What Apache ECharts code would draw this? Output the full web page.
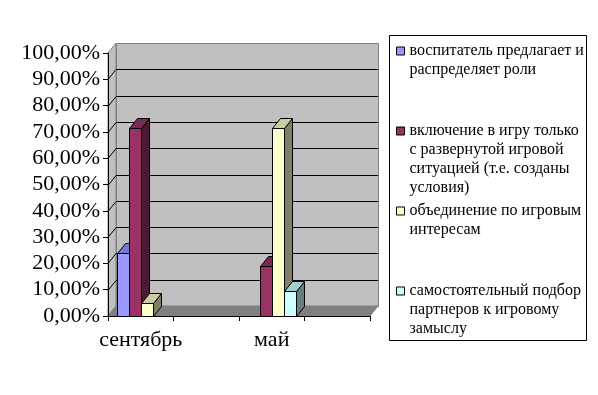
<!DOCTYPE html>
<html>
<head>
<meta charset="utf-8">
<script src="https://cdn.jsdelivr.net/npm/echarts@6/dist/echarts.min.js"></script>
<style>
html,body{margin:0;padding:0;background:#fff;}
#c{width:598px;height:395px;}
</style>
</head>
<body>
<div id="c"></div>
<script>
// ---- data ----
const categories = ['сентябрь', '', 'май', ''];
const yTicks = [0, 10, 20, 30, 40, 50, 60, 70, 80, 90, 100];
const seriesNames = [
  'воспитатель предлагает и распределяет роли',
  'включение в игру только с развернутой игровой ситуацией (т.е. созданы условия)',
  'объединение по игровым интересам',
  'самостоятельный подбор партнеров к игровому замыслу'
];
const legendLines = [
  ['воспитатель предлагает и', 'распределяет роли'],
  ['включение в игру только', 'с развернутой игровой', 'ситуацией (т.е. созданы', 'условия)'],
  ['объединение по игровым', 'интересам'],
  ['самостоятельный подбор', 'партнеров к игровому', 'замыслу']
];
const valVospitatel = [23.8, null, 0, null];
const valVklyuchenie = [71.4, null, 19.0, null];
const valObedinenie = [4.8, null, 71.4, null];
const valSamostoyat = [0, null, 9.5, null];
const seriesValues = [valVospitatel, valVklyuchenie, valObedinenie, valSamostoyat];

// ---- styles ----
const FONT = 'Liberation Serif';
const DX = 8, DY = -10, BAR_W = 12;
const palette = [
  { front: '#9999FF', top: '#7A7ACC', side: '#4D4D80' },
  { front: '#993366', top: '#7A2952', side: '#4D1A33' },
  { front: '#FFFFCC', top: '#CCCCA3', side: '#808066' },
  { front: '#CCFFFF', top: '#A3CCCC', side: '#668080' }
];
const legendCenters = [51, 131, 211, 291];
const LINE_H = 19;

const chart = echarts.init(document.getElementById('c'), null, { renderer: 'canvas' });

function wallRender(params, api) {
  const cs = params.coordSys;
  const L = cs.x, T = cs.y, W = cs.width, H = cs.height, B = T + H;
  const ch = [];
  const wallStyle = { fill: '#C0C0C0', stroke: '#808080', lineWidth: 1 };
  ch.push({ type: 'polygon', shape: { points: [[L, T], [L + DX, T + DY], [L + DX, B + DY], [L, B]] }, style: wallStyle });
  ch.push({ type: 'rect', shape: { x: L + DX + 0.5, y: T + DY + 0.5, width: W, height: H }, style: wallStyle });
  ch.push({ type: 'polygon', shape: { points: [[L, B], [L + W, B], [L + W + DX, B + DY], [L + DX, B + DY]] }, style: { fill: '#808080', stroke: '#808080', lineWidth: 1 } });
  yTicks.forEach(function (v) {
    if (v <= 0 || v >= 100) return;
    const y = Math.round(api.coord([0, v])[1]) + 0.5;
    ch.push({ type: 'line', shape: { x1: L + DX, y1: y + DY, x2: L + DX + W, y2: y + DY }, style: { stroke: '#000', lineWidth: 1 } });
    ch.push({ type: 'line', shape: { x1: L, y1: y, x2: L + DX, y2: y + DY }, style: { stroke: '#000', lineWidth: 1 } });
  });
  return { type: 'group', children: ch };
}

function barRender(sIdx) {
  const col = palette[sIdx];
  return function (params, api) {
    const c = api.value(0), v = api.value(1);
    if (!(v > 0)) return null;
    const top = api.coord([c, v]);
    const base = api.coord([c, 0]);
    const x0 = Math.round(top[0] - 2 * BAR_W + sIdx * BAR_W) + 0.5;
    const yT = Math.round(top[1]) + 0.5;
    const yB = Math.round(base[1]) + 0.5;
    const stroke = { stroke: '#000', lineWidth: 1 };
    return {
      type: 'group',
      children: [
        { type: 'polygon', shape: { points: [[x0 + BAR_W, yT], [x0 + BAR_W + DX, yT + DY], [x0 + BAR_W + DX, yB + DY], [x0 + BAR_W, yB]] }, style: Object.assign({ fill: col.side }, stroke) },
        { type: 'polygon', shape: { points: [[x0, yT], [x0 + BAR_W, yT], [x0 + BAR_W + DX, yT + DY], [x0 + DX, yT + DY]] }, style: Object.assign({ fill: col.top }, stroke) },
        { type: 'rect', shape: { x: x0, y: yT, width: BAR_W, height: yB - yT }, style: Object.assign({ fill: col.front }, stroke) }
      ]
    };
  };
}

const series = [{
  type: 'custom',
  name: '__walls',
  silent: true,
  renderItem: wallRender,
  data: [[0, 0]],
  z: 1
}];
seriesValues.forEach(function (arr, i) {
  const data = [];
  arr.forEach(function (v, ci) { if (v !== null) data.push([ci, v]); });
  series.push({
    type: 'custom',
    name: seriesNames[i],
    renderItem: barRender(i),
    itemStyle: { color: palette[i].front },
    data: data,
    z: 2
  });
});

const legends = seriesNames.map(function (name, i) {
  const n = legendLines[i].length;
  const hgt = (2 * n - 1) * LINE_H;
  return {
    data: [name],
    orient: 'vertical',
    left: 396,
    top: legendCenters[i] - hgt / 2,
    padding: 0,
    itemWidth: 8,
    itemHeight: 8,
    itemGap: 0,
    icon: 'rect',
    selectedMode: false,
    itemStyle: { borderColor: '#000', borderWidth: 1 },
    textStyle: { fontFamily: FONT, fontSize: 16, color: '#000', lineHeight: LINE_H, padding: [0, 0, 0, 0] },
    formatter: function () {
      return '\n'.repeat(n - 1) + legendLines[i].join('\n');
    }
  };
});

chart.setOption({
  animation: false,
  backgroundColor: '#fff',
  grid: { left: 108, top: 53, width: 262, height: 263, containLabel: false },
  graphic: [{
    type: 'rect',
    shape: { x: 389.5, y: 35.5, width: 197, height: 305 },
    style: { fill: 'none', stroke: '#000', lineWidth: 1 },
    silent: true
  }],
  legend: legends,
  xAxis: {
    type: 'category',
    data: categories,
    z: 5,
    axisLine: { show: true, lineStyle: { color: '#000', width: 1 } },
    axisTick: { show: true, length: 5, interval: 0, lineStyle: { color: '#000' } },
    axisLabel: { interval: 0, margin: 13, fontFamily: FONT, fontSize: 22, color: '#000' },
    splitLine: { show: false }
  },
  yAxis: {
    type: 'value',
    min: 0,
    max: 100,
    interval: 10,
    z: 5,
    axisLine: { show: true, lineStyle: { color: '#000', width: 1 } },
    axisTick: { show: true, length: 5, lineStyle: { color: '#000' } },
    axisLabel: {
      margin: 8, fontFamily: FONT, fontSize: 22, color: '#000',
      formatter: function (v) { return v.toFixed(2).replace('.', ',') + '%'; }
    },
    splitLine: { show: false }
  },
  series: series
});
</script>
</body>
</html>
